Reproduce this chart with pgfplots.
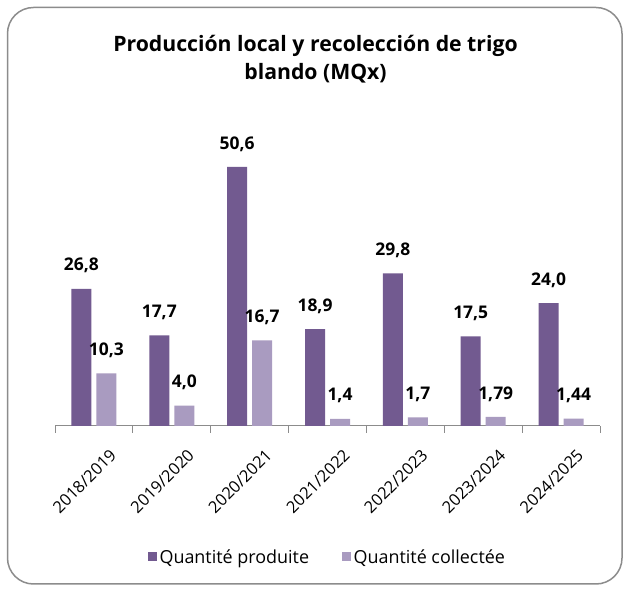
\documentclass[border=0pt]{standalone}
\usepackage{fontspec}
\setmainfont{Open Sans}
\usepackage{pgfplots}
\pgfplotsset{compat=1.18}
\definecolor{prod}{HTML}{725A90}
\definecolor{coll}{HTML}{A99BC0}
\definecolor{framegray}{HTML}{8C8C8C}
\definecolor{axisgray}{HTML}{8C8C8C}
\begin{document}
\begin{tikzpicture}[x=1bp,y=1bp]
\fill[white] (0,0) rectangle (627,589);
\draw[framegray, line width=1.5bp, rounded corners=26bp] (7.5,5) rectangle (622,581.5);
\node[anchor=base, font=\fontsize{21.3}{28}\selectfont\bfseries, inner sep=0pt] at (315.5,537) {Producción local y recolección de trigo};
\node[anchor=base, font=\fontsize{21.3}{28}\selectfont\bfseries, inner sep=0pt] at (315.5,509) {blando (MQx)};
\begin{axis}[
 at={(55bp,163bp)}, anchor=south west,
 scale only axis, width=545bp, height=281.6bp,
 ymin=0, ymax=55, xmin=-0.5, xmax=6.5,
 axis x line*=bottom, axis y line=none,
 clip=false,
 ybar=5bp, bar width=20bp,
 xtick={0,...,6},
 xticklabels={2018/2019,2019/2020,2020/2021,2021/2022,2022/2023,2023/2024,2024/2025},
 major tick length=0pt,
 minor xtick={-0.5,0.5,...,6.5},
 minor tick length=7bp,
 tick align=outside,
 x axis line style={axisgray, line width=1bp, -},
 minor x tick style={axisgray, line width=1bp},
 xticklabel style={rotate=45, anchor=north east, font=\fontsize{16.5}{18}\selectfont, inner sep=0bp, yshift=-26bp, xshift=-5bp},
 nodes near coords, point meta=explicit symbolic,
 nodes near coords style={anchor=center, yshift=23bp, font=\fontsize{17.5}{20}\selectfont\bfseries, text=black},
 legend columns=2,
 legend style={draw=none, fill=none, at={(0.5,-0.465)}, anchor=center, font=\fontsize{18}{20}\selectfont,
   nodes={inner sep=2.5bp},
   /tikz/every odd column/.append style={column sep=0bp},
   /tikz/every even column/.append style={column sep=30bp}},
 legend image code/.code={\fill[#1] (0bp,-4.5bp) rectangle (9.5bp,5bp);},
]
\addplot[fill=prod, draw=none] table[meta=lab] {
x y lab
0 26.8 26,8
1 17.7 17,7
2 50.6 50,6
3 18.9 18,9
4 29.8 29,8
5 17.5 17,5
6 24.0 24,0
};
\addlegendentry{Quantité produite}
\addplot[fill=coll, draw=none] table[meta=lab] {
x y lab
0 10.3 10,3
1 4.0 4,0
2 16.7 16,7
3 1.4 1,4
4 1.7 1,7
5 1.79 1,79
6 1.44 1,44
};
\addlegendentry{Quantité collectée}
\end{axis}
\end{tikzpicture}
\end{document}
